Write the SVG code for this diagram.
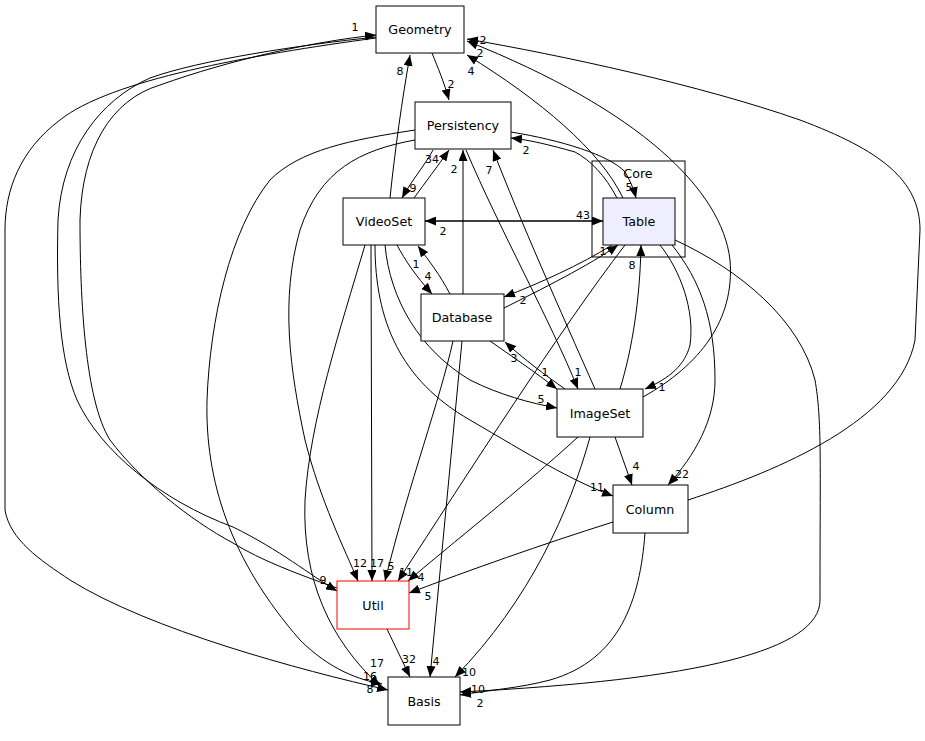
<svg xmlns="http://www.w3.org/2000/svg" width="925" height="741" viewBox="0 0 925 741">
<style>
.n rect{fill:#fff;stroke:#000;stroke-width:1}
.n text,.cl{font-family:"DejaVu Sans",sans-serif;font-size:12.7px;text-anchor:middle;fill:#000}
.e path{fill:none;stroke:#000;stroke-width:1;marker-end:url(#a)}
.e text{font-family:"DejaVu Sans",sans-serif;font-size:11px;text-anchor:middle;fill:#000}
</style>
<defs>
<marker id="a" markerWidth="11" markerHeight="9" refX="11" refY="4.5" orient="auto" markerUnits="userSpaceOnUse"><path d="M0,0 L11,4.5 L0,9 z" fill="#000"/></marker>
</defs>
<rect width="925" height="741" fill="#fff"/>
<g id="cluster_Core">
<rect x="592" y="161" width="93" height="96" fill="none" stroke="#000"/>
<text class="cl" x="638" y="178">Core</text>
</g>
<g class="e" id="edges">
<path d="M432,53 C438,68 444,82 449,100"/><text x="451" y="88">2</text>
<path d="M390,198 C395,150 402,100 410,55"/><text x="400" y="75">8</text>
<path d="M623,198 C600,150 540,100 467,55"/><text x="471" y="75">4</text>
<path d="M643,397 C700,365 735,320 730,260 C722,190 640,110 467,41"/><text x="480" y="57">2</text>
<path d="M688,500 C780,470 900,420 915,340 L920,230 C920,180 880,150 800,120 C700,85 560,55 467,39"/><text x="483" y="44">2</text>
<path d="M337,588 C300,575 260,560 233,543 C190,520 140,480 110,440 C85,400 80,300 80,220 C82,150 110,100 160,85 C230,60 310,42 376,35"/><text x="355" y="31">1</text>
<path d="M376,37 C300,45 200,60 150,78 C100,100 62,150 58,220 C56,300 60,360 77,400 C100,450 160,500 233,527 C280,550 310,575 337,591"/><text x="323" y="584">9</text>
<path d="M376,38 C250,55 110,80 60,120 C20,150 5,190 5,230 L5,510 C10,540 40,560 70,580 C150,630 300,670 388,690"/><text x="370" y="693">8</text>
<path d="M433,150 C425,165 412,180 402,198"/><text x="413" y="192">9</text>
<path d="M414,198 C425,183 437,167 449,150"/><text x="432" y="163">34</text>
<path d="M463,294 L463,150"/><text x="454" y="173">2</text>
<path d="M595,389 C560,310 520,220 493,150"/><text x="489" y="174">7</text>
<path d="M466,150 C500,230 550,320 578,389"/><text x="578" y="376">1</text>
<path d="M617,198 C605,175 590,160 575,152 C550,145 530,140 511,138"/><text x="526" y="154">2</text>
<path d="M511,132 C560,140 610,155 625,172 C630,180 634,190 636,198"/><text x="629" y="191">5</text>
<path d="M603,221 L425,221"/><text x="443" y="235">2</text>
<path d="M425,221 L603,221"/><text x="583" y="219">43</text>
<path d="M450,294 C440,275 430,262 418,246"/><text x="416" y="268">1</text>
<path d="M397,245 C405,260 415,275 432,294"/><text x="428" y="280">4</text>
<path d="M612,245 C580,265 540,283 504,297"/><text x="523" y="304">2</text>
<path d="M504,308 C540,290 590,265 618,245"/><text x="603" y="255">1</text>
<path d="M625,245 C560,330 470,470 398,581"/><text x="406" y="576">11</text>
<path d="M620,389 C632,350 640,300 641,245"/><text x="632" y="269">8</text>
<path d="M660,245 C680,270 695,310 690,345 C685,365 670,378 645,389"/><text x="662" y="391">1</text>
<path d="M672,245 C700,280 715,320 715,380 C715,420 695,455 668,485"/><text x="682" y="478">22</text>
<path d="M675,240 C740,270 800,320 815,380 C822,420 820,460 820,600 C820,650 700,680 460,692"/><text x="478" y="693">10</text>
<path d="M565,389 C545,375 525,360 505,342"/><text x="514" y="362">3</text>
<path d="M490,341 C510,355 535,372 557,389"/><text x="545" y="376">1</text>
<path d="M385,245 C390,300 420,350 470,380 C500,395 530,403 557,408"/><text x="541" y="403">5</text>
<path d="M375,245 C375,320 400,380 470,420 C530,455 570,480 613,496"/><text x="597" y="491">11</text>
<path d="M371,245 L372,581"/><text x="377" y="567">17</text>
<path d="M365,245 C340,330 310,420 305,500 C302,580 330,640 380,686"/><text x="370" y="680">16</text>
<path d="M415,140 C360,150 320,170 300,230 C280,300 290,370 305,440 C320,500 345,550 358,581"/><text x="360" y="567">12</text>
<path d="M415,130 C350,140 300,150 270,180 C230,230 210,320 207,400 C205,480 230,560 300,640 C330,670 360,680 382,684"/><text x="377" y="667">17</text>
<path d="M453,341 C440,400 410,480 385,581"/><text x="391" y="570">5</text>
<path d="M462,341 L430,677"/><text x="436" y="665">4</text>
<path d="M578,437 C520,490 450,545 408,581"/><text x="421" y="581">4</text>
<path d="M615,437 L632,485"/><text x="636" y="470">4</text>
<path d="M590,437 C570,510 530,600 455,677"/><text x="469" y="676">10</text>
<path d="M613,522 C540,545 470,570 409,593"/><text x="428" y="600">5</text>
<path d="M645,533 C640,600 620,660 550,680 C520,688 490,690 460,695"/><text x="480" y="707">2</text>
<path d="M387,629 L410,677"/><text x="409" y="663">32</text>
</g>
<g class="n" id="Geometry"><rect x="376" y="6" width="88" height="47"/><text x="420" y="34">Geometry</text></g>
<g class="n" id="Persistency"><rect x="415" y="102" width="96" height="47"/><text x="463" y="130">Persistency</text></g>
<g class="n" id="VideoSet"><rect x="343" y="198" width="82" height="47"/><text x="384" y="226">VideoSet</text></g>
<g class="n" id="Table"><rect x="603" y="198" width="72" height="47" style="fill:#eeeeff"/><text x="639" y="226">Table</text></g>
<g class="n" id="Database"><rect x="421" y="294" width="83" height="47"/><text x="462" y="322">Database</text></g>
<g class="n" id="ImageSet"><rect x="557" y="389" width="86" height="48"/><text x="600" y="418">ImageSet</text></g>
<g class="n" id="Column"><rect x="613" y="485" width="75" height="48"/><text x="650" y="514">Column</text></g>
<g class="n" id="Util"><rect x="337" y="581" width="72" height="48" style="stroke:#ff0000"/><text x="373" y="610">Util</text></g>
<g class="n" id="Basis"><rect x="388" y="677" width="72" height="48"/><text x="424" y="706">Basis</text></g>
</svg>
